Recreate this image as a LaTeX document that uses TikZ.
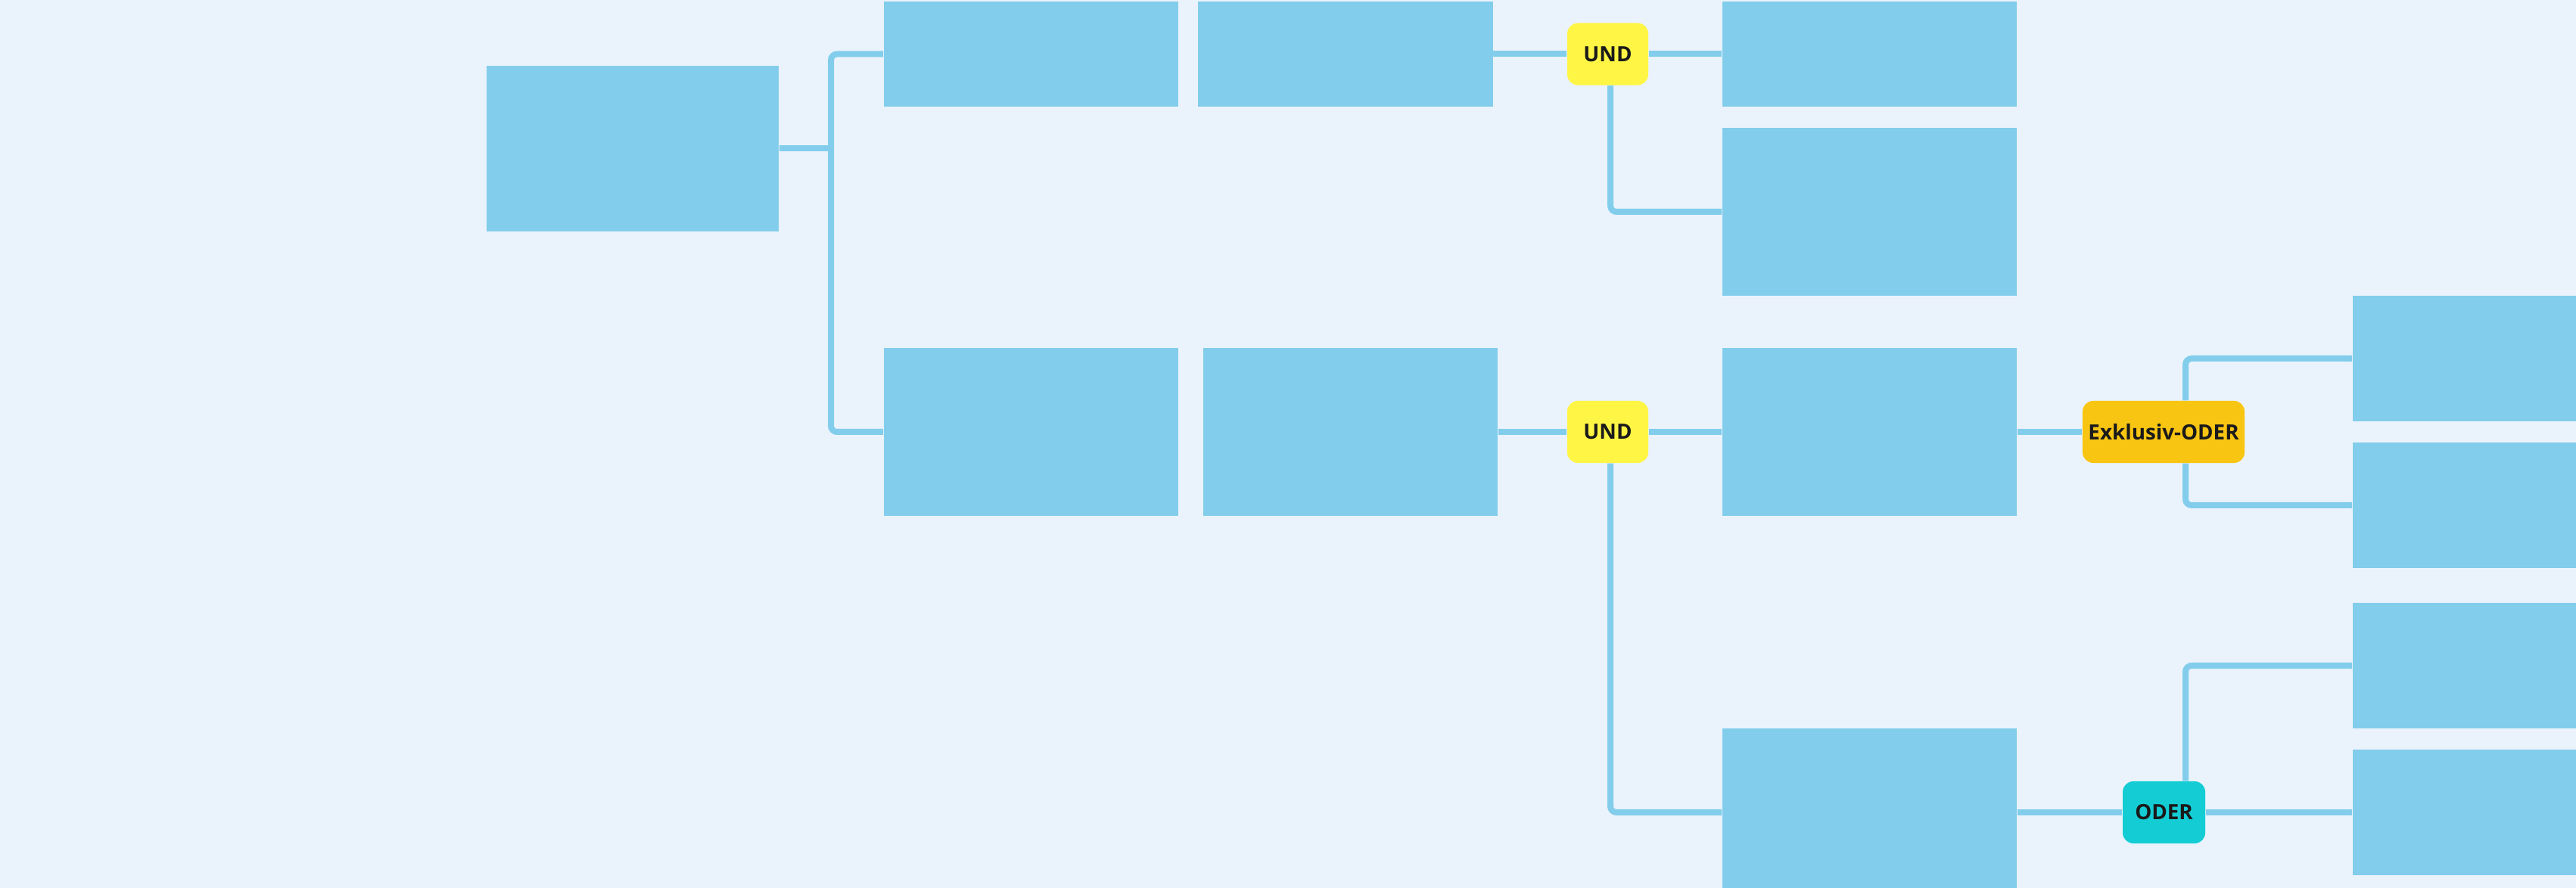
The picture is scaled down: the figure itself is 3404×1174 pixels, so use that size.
\documentclass[tikz,border=0pt]{standalone}
\usepackage{fontspec}
\setmainfont{Open Sans}
\usetikzlibrary{calc}
\definecolor{bgc}{HTML}{EAF3FC}
\definecolor{boxc}{HTML}{82CDEB}
\definecolor{andc}{HTML}{FFF545}
\definecolor{xorc}{HTML}{F9C513}
\definecolor{orc}{HTML}{14CDD4}
\definecolor{txt}{HTML}{1A1A1A}
\begin{document}
\begin{tikzpicture}[x=0.01cm,y=-0.01cm,
 box/.style={rectangle, fill=boxc, draw=none, inner sep=0pt},
 wide/.style={box, minimum width=3.89cm},
 gate/.style={rectangle, rounded corners=0.14cm, inner sep=0pt,
   font=\fontsize{7.9pt}{9pt}\selectfont\bfseries, text=txt, minimum height=0.82cm},
 andgate/.style={gate, fill=andc, minimum width=1.07cm},
 xorgate/.style={gate, fill=xorc, minimum width=2.14cm},
 orgate/.style={gate, fill=orc, minimum width=1.09cm},
 conn/.style={draw=boxc, line width=0.08cm, rounded corners=0.08cm}]
\useasboundingbox (0,0) rectangle (3404,1174);
\fill[bgc] (0,0) rectangle (3404,1174);
\clip (0,0) rectangle (3404,1174);

% boxes
\node[box, minimum width=3.86cm, minimum height=2.19cm] (A) at (836,196.5) {};
\node[wide, minimum height=1.39cm] (B1) at (1362.5,71.5) {};
\node[wide, minimum height=1.39cm] (B2) at (1778,71.5) {};
\node[wide, minimum height=1.39cm] (C1) at (2470.5,71.5) {};
\node[wide, minimum height=2.22cm] (C2) at (2470.5,280) {};
\node[wide, minimum height=2.22cm] (B3) at (1362.5,571) {};
\node[wide, minimum height=2.22cm] (B4) at (1784.5,571) {};
\node[wide, minimum height=2.22cm] (C3) at (2470.5,571) {};
\node[wide, minimum height=2.22cm] (C4) at (2470.5,1074) {};
\node[wide, minimum height=1.66cm] (D1) at (3303.5,474) {};
\node[wide, minimum height=1.66cm] (D2) at (3303.5,668) {};
\node[wide, minimum height=1.66cm] (D3) at (3303.5,880) {};
\node[wide, minimum height=1.66cm] (D4) at (3303.5,1074) {};

% gates
\node[andgate] (U1) at (2124.5,71.5) {UND};
\node[andgate] (U2) at (2124.5,571) {UND};
\node[xorgate] (X) at (2859,571) {Exklusiv-ODER};
\node[orgate] (O) at (2859.5,1074) {ODER};

% connectors
\coordinate (j1) at (1098,196.5);
\draw[conn] (A.east) -- (j1);
\draw[conn] (B1.west) -| (j1) |- (B3.west);
\draw[conn] (B2.east) -- (U1.west);
\draw[conn] (U1.east) -- (C1.west);
\draw[conn] ($(U1.south)+(3.5,0)$) |- (C2.west);
\draw[conn] (B4.east) -- (U2.west);
\draw[conn] (U2.east) -- (C3.west);
\draw[conn] ($(U2.south)+(3.5,0)$) |- (C4.west);
\draw[conn] (C3.east) -- (X.west);
\draw[conn] ($(X.north)+(29,0)$) |- (D1.west);
\draw[conn] ($(X.south)+(29,0)$) |- (D2.west);
\draw[conn] (C4.east) -- (O.west);
\draw[conn] (O.east) -- (D4.west);
\draw[conn] ($(O.north)+(28.5,0)$) |- (D3.west);
\end{tikzpicture}
\end{document}
